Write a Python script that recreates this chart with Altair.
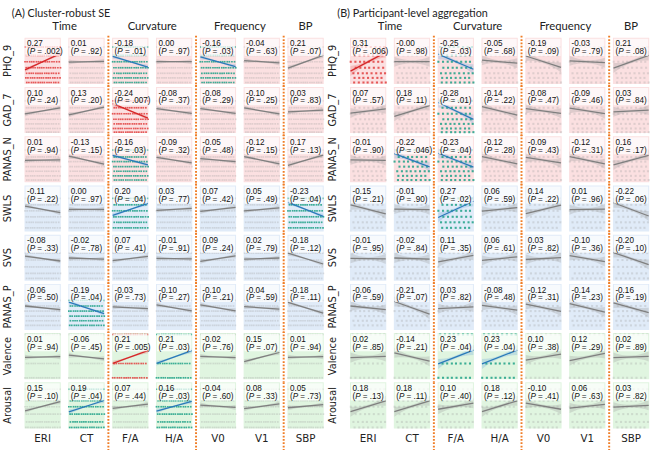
import altair as alt
import pandas as pd

# ---------------- data ----------------
outcomes = ["PHQ_9", "GAD_7", "PANAS_N", "SWLS", "SVS", "PANAS_P", "Valence", "Arousal"]
outcome_domain = ["neg", "neg", "neg", "pos", "pos", "pos", "aff", "aff"]
predictors = ["ERI", "CT", "F/A", "H/A", "V0", "V1", "SBP"]
group_names = ["Time", "Curvature", "Frequency", "BP"]
pred_group = [0, 0, 1, 1, 2, 2, 3]
panel_titles = ["(A) Cluster-robust SE", "(B) Participant-level aggregation"]

coef_A = [
    ["0.27", "0.01", "-0.18", "0.00", "-0.16", "-0.04", "0.21"],
    ["0.10", "0.13", "-0.24", "-0.08", "-0.08", "-0.10", "0.03"],
    ["0.01", "-0.13", "-0.16", "-0.09", "-0.05", "-0.12", "0.17"],
    ["-0.11", "0.00", "0.20", "0.03", "0.07", "0.05", "-0.23"],
    ["-0.08", "-0.02", "0.07", "-0.01", "0.09", "0.02", "-0.18"],
    ["-0.06", "-0.19", "-0.03", "-0.10", "-0.10", "-0.04", "-0.18"],
    ["0.01", "-0.06", "0.21", "0.21", "-0.02", "0.15", "0.01"],
    ["0.15", "0.19", "0.07", "0.16", "-0.04", "0.08", "0.05"],
]
p_A = [
    [".002", ".92", ".01", ".97", ".03", ".63", ".07"],
    [".24", ".20", ".007", ".37", ".29", ".25", ".83"],
    [".94", ".15", ".03", ".32", ".48", ".15", ".13"],
    [".22", ".97", ".04", ".77", ".42", ".49", ".04"],
    [".33", ".78", ".41", ".91", ".24", ".79", ".12"],
    [".50", ".04", ".73", ".27", ".21", ".59", ".11"],
    [".94", ".45", ".005", ".03", ".76", ".07", ".94"],
    [".10", ".04", ".44", ".03", ".60", ".33", ".73"],
]
coef_B = [
    ["0.31", "-0.00", "-0.25", "-0.05", "-0.19", "-0.03", "0.21"],
    ["0.07", "0.18", "-0.28", "-0.14", "-0.08", "-0.09", "0.03"],
    ["-0.01", "-0.22", "-0.23", "-0.12", "-0.09", "-0.12", "0.16"],
    ["-0.15", "-0.01", "0.27", "0.06", "0.14", "0.01", "-0.22"],
    ["-0.01", "-0.02", "0.11", "0.06", "0.03", "-0.10", "-0.20"],
    ["-0.06", "-0.21", "0.03", "-0.08", "-0.12", "-0.14", "-0.16"],
    ["0.02", "-0.14", "0.23", "0.23", "0.10", "0.12", "0.02"],
    ["0.18", "0.18", "0.10", "0.18", "-0.10", "0.06", "0.03"],
]
p_B = [
    [".006", ".98", ".03", ".68", ".09", ".79", ".08"],
    [".57", ".11", ".01", ".22", ".47", ".46", ".84"],
    [".90", ".046", ".04", ".28", ".43", ".31", ".17"],
    [".21", ".90", ".02", ".59", ".22", ".96", ".06"],
    [".95", ".84", ".35", ".61", ".82", ".36", ".10"],
    [".59", ".07", ".82", ".48", ".31", ".23", ".19"],
    [".85", ".21", ".04", ".04", ".38", ".29", ".89"],
    [".13", ".11", ".40", ".12", ".41", ".63", ".82"],
]

# approximate score levels of the raw observations (fraction of panel height from top)
levels = {
    "PHQ_9": [0.2, 0.38, 0.52, 0.65, 0.77, 0.87, 0.97],
    "GAD_7": [0.3, 0.45, 0.58, 0.7, 0.8, 0.9, 0.98],
    "PANAS_N": [0.3, 0.45, 0.55, 0.66, 0.76, 0.86, 0.95],
    "SWLS": [0.28, 0.42, 0.55, 0.68, 0.8, 0.92],
    "SVS": [0.4, 0.55, 0.7, 0.84, 0.95],
    "PANAS_P": [0.36, 0.48, 0.59, 0.7, 0.8, 0.9],
    "Valence": [0.03, 0.66, 0.97],
    "Arousal": [0.15, 0.4, 0.53, 0.69, 0.86, 0.98],
}
# approximate standardized predictor values of the raw observations
xs_A = [-1.65, -1.45, -1.2, -1.0, -0.8, -0.55, -0.35, -0.15, 0.05, 0.3, 0.5, 0.7, 0.95, 1.15, 1.4, 1.65]
shift_A = [0.0, 0.1, -0.05, 0.07, -0.1, 0.03, 0.12]
xs_B = [-1.5, -1.05, -0.6, -0.2, 0.25, 0.7, 1.15, 1.55]
shift_B = [0.0, 0.22, -0.18, 0.3, 0.08, -0.26, 0.15]
band_x = [-1.7, -1.3, -0.9, -0.45, 0.0, 0.45, 0.9, 1.3, 1.7]

# ---------------- layout constants ----------------
W, H = 37, 47
SC, SR = 7.7, 3.2
Y_TOP, Y_BOT = 1.35, -1.25
X_LO, X_HI = -1.75, 1.75
XLINE = 1.7

PINK, BLUE, GREEN = "#fbe0e1", "#e0ebf8", "#e0f5e0"
RED, LBLUE, GRAY = "#d62728", "#2a7ab9", "#7f7f7f"
ORANGE = "#f07d26"
NBSP = "\u00a0"


def build(coefs, ps, xs, shifts, ba, bb):
    rows = []
    for i, o in enumerate(outcomes):
        for j, pr in enumerate(predictors):
            c, p = coefs[i][j], ps[i][j]
            pv = float("0" + p)
            sig = "strong" if pv < 0.01 else ("sig" if pv < 0.05 else "ns")
            beta = float(c)
            base = dict(outcome=o, pred=pr, sig=sig, dom=outcome_domain[i])
            rows.append(dict(base, kind="cell", coef=c, prest="=" + NBSP + p + ")", beta=beta,
                             grp=group_names[pred_group[j]]))
            for k, f in enumerate(levels[o]):
                for x in xs:
                    xx = x + shifts[k % len(shifts)]
                    if X_LO < xx < X_HI:
                        rows.append(dict(base, kind="pt", px=xx, py=Y_TOP - f * (Y_TOP - Y_BOT)))
            for bx in band_x:
                hw = ba + bb * bx * bx
                rows.append(dict(base, kind="band", bx=bx, blo=beta * bx - hw, bhi=beta * bx + hw))
    return pd.DataFrame(rows)


xscale = alt.Scale(domain=[X_LO, X_HI])
yscale = alt.Scale(domain=[Y_BOT, Y_TOP])


def sigcolor(strong, sig, ns):
    return (alt.when(alt.datum.sig == "strong").then(alt.value(strong))
            .when(alt.datum.sig == "sig").then(alt.value(sig))
            .otherwise(alt.value(ns)))


def panel(df, title, ptsize):
    base = alt.Chart()
    cell = base.transform_filter(alt.datum.kind == "cell")

    bg = cell.mark_rect().encode(
        x=alt.value(0), x2=alt.value(W), y=alt.value(0), y2=alt.value(H),
        color=(alt.when(alt.datum.dom == "neg").then(alt.value(PINK))
               .when(alt.datum.dom == "pos").then(alt.value(BLUE))
               .otherwise(alt.value(GREEN))),
    )
    pts = base.transform_filter(alt.datum.kind == "pt").mark_square(size=ptsize, strokeWidth=0).encode(
        x=alt.X("px:Q", scale=xscale, axis=None),
        y=alt.Y("py:Q", scale=yscale, axis=None),
        color=sigcolor("#e04040", "#1fa187", "#a0a0a0"),
        opacity=alt.when(alt.datum.sig == "ns").then(alt.value(0.3)).otherwise(alt.value(0.85)),
    )
    band = base.transform_filter(alt.datum.kind == "band").mark_area().encode(
        x=alt.X("bx:Q", scale=xscale, axis=None),
        y=alt.Y("blo:Q", scale=yscale, axis=None),
        y2="bhi:Q",
        color=sigcolor("#e87070", "#6fa8dc", "#9a9a9a"),
        opacity=alt.value(0.3),
    )
    line = cell.transform_calculate(
        lx1=str(-XLINE), lx2=str(XLINE),
        ly1=f"-{XLINE}*datum.beta", ly2=f"{XLINE}*datum.beta",
    ).mark_rule(strokeWidth=1.3).encode(
        x=alt.X("lx1:Q", scale=xscale, axis=None), x2="lx2:Q",
        y=alt.Y("ly1:Q", scale=yscale, axis=None), y2="ly2:Q",
        color=sigcolor(RED, LBLUE, GRAY),
    )
    box = cell.mark_rect(color="white", opacity=0.75).encode(
        x=alt.value(1), x2=alt.value(W - 1), y=alt.value(1), y2=alt.value(18.5))
    tfont = dict(font="Liberation Sans", fontSize=8.3, color="#111", align="left", baseline="alphabetic")
    t1 = cell.mark_text(**tfont).encode(x=alt.value(2.5), y=alt.value(8.8), text="coef:N")
    t2 = cell.mark_text(text="(", **tfont).encode(x=alt.value(2.5), y=alt.value(16.8))
    t3 = cell.mark_text(text="P", fontStyle="italic", **tfont).encode(x=alt.value(5.3), y=alt.value(16.8))
    t4 = cell.mark_text(**tfont).encode(x=alt.value(13.0), y=alt.value(16.8), text="prest:N")

    top = cell.transform_filter(alt.datum.outcome == outcomes[0])
    hfont = dict(font="Lato", fontSize=11.5, color="#222", align="center", baseline="middle")
    g2 = top.transform_filter(alt.FieldOneOfPredicate(field="pred", oneOf=["ERI", "F/A", "V0"])).mark_text(
        **hfont).encode(x=alt.value(W + SC / 2), y=alt.value(-11), text="grp:N")
    g1 = top.transform_filter(alt.datum.pred == "SBP").mark_text(**hfont).encode(
        x=alt.value(W / 2), y=alt.value(-11), text="grp:N")
    ttl = top.transform_filter(alt.datum.pred == "ERI").mark_text(
        text=title, font="Lato", fontSize=11, color="#222", align="left", baseline="middle").encode(
        x=alt.value(-13), y=alt.value(-24))

    sep = cell.transform_filter(alt.FieldOneOfPredicate(field="pred", oneOf=["CT", "H/A", "V1"]))
    dots = dict(color=ORANGE, strokeWidth=2, strokeDash=[1.8, 1.6])
    r1 = sep.transform_filter(alt.datum.outcome != outcomes[-1]).mark_rule(**dots).encode(
        x=alt.value(W + SC / 2), y=alt.value(-2), y2=alt.value(H + SR))
    r2 = sep.transform_filter(alt.datum.outcome == outcomes[-1]).mark_rule(**dots).encode(
        x=alt.value(W + SC / 2), y=alt.value(0), y2=alt.value(H + 22))

    lay = alt.layer(bg, band, pts, line, box, t1, t2, t3, t4, g2, g1, ttl, r1, r2).properties(
        width=W, height=H)
    return lay.facet(
        data=df,
        row=alt.Row("outcome:N", sort=outcomes, title=None,
                    header=alt.Header(labelOrient="left", labelAngle=270, labelFont="DejaVu Sans",
                                      labelFontSize=10, labelPadding=2, labelColor="#222")),
        column=alt.Column("pred:N", sort=predictors, title=None,
                          header=alt.Header(labelOrient="bottom", labelFont="DejaVu Sans",
                                            labelFontSize=10.5, labelPadding=5, labelColor="#222")),
        spacing={"row": SR, "column": SC},
        bounds="flush",
    )


dfA = build(coef_A, p_A, xs_A, shift_A, 0.04, 0.035)
dfB = build(coef_B, p_B, xs_B, shift_B, 0.08, 0.07)

chart = alt.hconcat(panel(dfA, panel_titles[0], 3), panel(dfB, panel_titles[1], 4.5),
                    spacing=3).properties(
    padding={"left": 2, "top": 4, "right": 0, "bottom": 0}
).configure_view(strokeWidth=0)

chart.save("out.html", embed_options={"renderer": "svg", "actions": False})
